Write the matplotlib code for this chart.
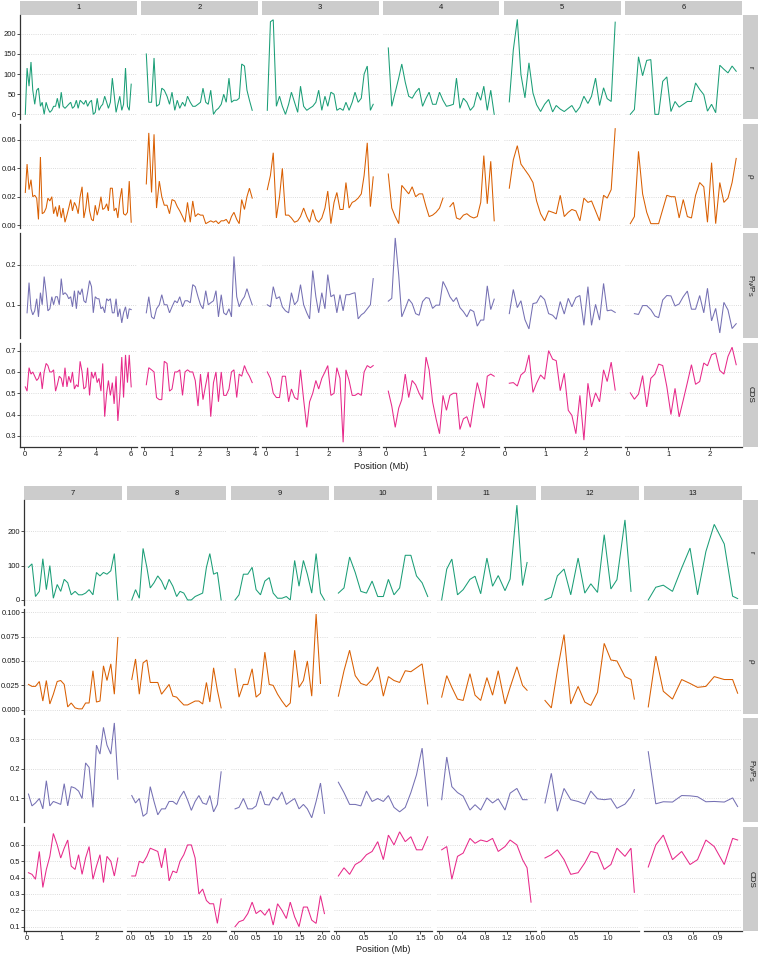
import numpy as np
import matplotlib
matplotlib.use('Agg')
import matplotlib.pyplot as plt

nan = float('nan')

# ---------------- data (Position in Mb, per chromosome) ----------------
pos_1 = [0.05, 0.15, 0.26, 0.37, 0.47, 0.58, 0.69, 0.79, 0.9, 1.0,
         1.11, 1.22, 1.32, 1.43, 1.54, 1.64, 1.75, 1.85, 1.96, 2.07,
         2.17, 2.28, 2.39, 2.49, 2.6, 2.7, 2.81, 2.92, 3.02, 3.13,
         3.24, 3.34, 3.45, 3.55, 3.66, 3.77, 3.87, 3.98, 4.09, 4.19,
         4.3, 4.4, 4.51, 4.62, 4.72, 4.83, 4.94, 5.04, 5.15, 5.25,
         5.36, 5.47, 5.57, 5.68, 5.79, 5.89, 6.0]
r_1 = [0, 115, 70, 130, 60, 25, 60, 65, 20, 30,
       0, 30, 15, 5, 10, 20, 20, 40, 15, 55,
       20, 15, 20, 25, 30, 15, 20, 35, 15, 35,
       30, 25, 35, 20, 30, 35, 0, 5, 40, 10,
       20, 25, 45, 30, 15, 30, 90, 50, 5, 25,
       45, 10, 25, 115, 20, 10, 75]
rho_1 = [0.023, 0.043, 0.025, 0.032, 0.02, 0.021, 0.019, 0.004, 0.048, 0.008,
         0.009, 0.012, 0.019, 0.017, 0.02, 0.008, 0.013, 0.006, 0.014, 0.005,
         0.012, 0.002, 0.007, 0.012, 0.018, 0.01, 0.016, 0.013, 0.008, 0.02,
         0.027, 0.005, 0.012, 0.023, 0.01, 0.004, 0.003, 0.014, 0.007, 0.012,
         0.02, 0.011, 0.012, 0.015, 0.01, 0.026, 0.026, 0.01, 0.012, 0.005,
         0.018, 0.026, 0.008, 0.007, 0.009, 0.031, 0.002]
pnps_1 = [nan, 0.08, 0.155, 0.09, 0.075, 0.085, 0.115, 0.07, 0.13, 0.1,
          0.17, 0.13, 0.085, 0.09, 0.12, 0.1, 0.12, 0.12, 0.1, 0.165,
          0.125, 0.13, 0.125, 0.115, 0.12, 0.095, 0.135, 0.09, 0.135, 0.125,
          0.14, 0.11, 0.105, 0.13, 0.16, 0.145, 0.08, 0.12, 0.115, 0.115,
          0.09, 0.095, 0.08, 0.115, 0.11, 0.115, 0.08, 0.08, 0.115, 0.07,
          0.09, 0.055, 0.08, 0.095, 0.065, 0.09, 0.088]
cds_1 = [0.53, 0.51, 0.62, 0.59, 0.6, 0.58, 0.56, 0.57, 0.6, 0.52,
         0.6, 0.64, 0.63, 0.6, 0.6, 0.61, 0.51, 0.54, 0.58, 0.57,
         0.53, 0.62, 0.53, 0.58, 0.55, 0.6, 0.52, 0.54, 0.53, 0.65,
         0.6, 0.52, 0.53, 0.62, 0.49, 0.6, 0.57, 0.6, 0.55, 0.57,
         0.51, 0.64, 0.39, 0.5, 0.56, 0.49, 0.55, 0.45, 0.58, 0.37,
         0.49, 0.67, 0.48, 0.68, 0.55, 0.68, 0.53]

pos_2 = [0.07, 0.16, 0.26, 0.35, 0.44, 0.54, 0.63, 0.72, 0.82, 0.91,
         1.0, 1.1, 1.19, 1.28, 1.38, 1.47, 1.56, 1.66, 1.75, 1.84,
         1.94, 2.03, 2.12, 2.22, 2.31, 2.4, 2.5, 2.59, 2.68, 2.78,
         2.87, 2.96, 3.06, 3.15, 3.24, 3.34, 3.43, 3.52, 3.62, 3.71,
         3.8, 3.9]
r_2 = [150, 30, 30, 140, 20, 25, 65, 60, 45, 25,
       55, 10, 35, 15, 30, 20, 45, 30, 20, 20,
       25, 30, 65, 30, 25, 60, 0, 10, 15, 25,
       50, 30, 90, 30, 35, 35, 40, 125, 120, 60,
       35, 10]
rho_2 = [0.029, 0.065, 0.023, 0.064, 0.012, 0.031, 0.02, 0.014, 0.014, 0.008,
         0.018, 0.017, 0.013, 0.01, 0.006, 0.002, 0.016, 0.002, 0.017, 0.006,
         0.008, 0.007, 0.007, 0.001, 0.002, 0.003, 0.002, 0.003, 0.001, 0.003,
         0.003, 0.004, 0.001, 0.006, 0.009, 0.004, 0.001, 0.018, 0.011, 0.02,
         0.026, 0.019]
pnps_2 = [0.08, 0.12, 0.07, 0.065, 0.09, 0.1, 0.125, 0.1, 0.1, 0.08,
          0.095, 0.11, 0.105, 0.12, 0.095, 0.11, 0.11, 0.105, 0.15, 0.145,
          0.12, 0.1, 0.09, 0.135, 0.1, 0.105, 0.11, 0.135, 0.07, 0.125,
          0.08, 0.075, 0.09, 0.07, 0.22, 0.12, 0.095, 0.11, 0.12, 0.14,
          0.12, 0.1]
cds_2 = [0.54, 0.62, 0.61, 0.6, 0.48, 0.47, 0.47, 0.65, 0.64, 0.51,
         0.52, 0.6, 0.6, 0.61, 0.49, 0.6, 0.61, 0.6, 0.6, 0.56,
         0.44, 0.59, 0.47, 0.54, 0.6, 0.39, 0.55, 0.6, 0.46, 0.6,
         0.49, 0.49, 0.52, 0.6, 0.61, 0.48, 0.59, 0.58, 0.63, 0.6,
         0.58, 0.55]

pos_3 = [0.05, 0.15, 0.24, 0.34, 0.44, 0.53, 0.63, 0.73, 0.82, 0.92,
         1.02, 1.11, 1.21, 1.31, 1.4, 1.5, 1.6, 1.69, 1.79, 1.89,
         1.98, 2.08, 2.18, 2.27, 2.37, 2.47, 2.56, 2.66, 2.76, 2.85,
         2.95, 3.05, 3.14, 3.24, 3.34, 3.43]
r_3 = [10, 230, 235, 20, 45, 20, 0, 25, 55, 30,
       5, 70, 20, 10, 15, 20, 30, 60, 10, 45,
       20, 55, 50, 10, 15, 10, 30, 10, 30, 55,
       30, 40, 100, 120, 10, 25]
rho_3 = [0.025, 0.035, 0.051, 0.005, 0.02, 0.04, 0.007, 0.007, 0.005, 0.002,
         0.003, 0.006, 0.012, 0.006, 0.002, 0.011, 0.004, 0.002, 0.005, 0.012,
         0.024, 0.001, 0.016, 0.023, 0.011, 0.011, 0.03, 0.012, 0.016, 0.017,
         0.019, 0.022, 0.035, 0.058, 0.013, 0.034]
pnps_3 = [0.1, 0.095, 0.145, 0.115, 0.12, 0.095, 0.085, 0.08, 0.13, 0.1,
          0.11, 0.15, 0.1, 0.08, 0.065, 0.185, 0.12, 0.08, 0.13, 0.09,
          0.175, 0.12, 0.125, 0.08, 0.125, 0.085, 0.125, 0.125, 0.128, 0.13,
          0.065, 0.075, 0.08, 0.09, 0.1, 0.165]
cds_3 = [0.6, 0.57, 0.5, 0.48, 0.48, 0.58, 0.58, 0.46, 0.52, 0.48,
         0.47, 0.61, 0.47, 0.34, 0.46, 0.5, 0.56, 0.52, 0.57, 0.6,
         0.63, 0.49, 0.5, 0.62, 0.57, 0.27, 0.61, 0.56, 0.49, 0.49,
         0.5, 0.49, 0.6, 0.63, 0.62, 0.63]

pos_4 = [0.07, 0.16, 0.25, 0.34, 0.42, 0.51, 0.6, 0.69, 0.78, 0.87,
         0.96, 1.05, 1.13, 1.22, 1.31, 1.4, 1.49, 1.58, 1.67, 1.76,
         1.84, 1.93, 2.02, 2.11, 2.2, 2.29, 2.38, 2.47, 2.55, 2.64,
         2.73, 2.82]
r_4 = [165, 20, 55, 90, 125, 80, 45, 40, 55, 65,
       20, 40, 55, 25, 25, 55, 35, 20, 22, 25,
       90, 15, 40, 30, 10, 20, 55, 35, 70, 10,
       60, 0]
rho_4 = [0.036, 0.012, 0.006, 0.001, 0.028, 0.025, 0.022, 0.027, 0.02, 0.022,
         0.022, 0.013, 0.006, 0.007, 0.009, 0.012, 0.019, nan, 0.013, 0.016,
         0.005, 0.004, 0.007, 0.008, 0.006, 0.005, 0.006, 0.016, 0.049, 0.015,
         0.045, 0.003]
pnps_4 = [0.109, 0.116, 0.266, 0.174, 0.07, 0.091, 0.114, 0.103, 0.078, 0.074,
          0.108, 0.118, 0.116, 0.091, 0.099, 0.099, 0.158, 0.141, 0.12, 0.108,
          0.118, 0.093, 0.083, 0.07, 0.088, 0.083, 0.047, 0.062, 0.062, 0.147,
          0.088, 0.114]
cds_4 = [0.51, 0.44, 0.34, 0.43, 0.47, 0.59, 0.48, 0.56, 0.54, 0.5,
         0.47, 0.67, 0.61, 0.46, 0.38, 0.31, 0.49, 0.42, 0.49, 0.5,
         0.5, 0.33, 0.38, 0.39, 0.34, 0.45, 0.55, 0.49, 0.43, 0.58,
         0.59, 0.58]

pos_5 = [0.1, 0.2, 0.3, 0.39, 0.49, 0.59, 0.69, 0.78, 0.88, 0.98,
         1.08, 1.18, 1.27, 1.37, 1.47, 1.57, 1.66, 1.76, 1.86, 1.96,
         2.06, 2.15, 2.25, 2.35, 2.45, 2.54, 2.64, 2.74]
r_5 = [31, 160, 236, 99, 41, 128, 53, 24, 7, 25,
       37, 6, 22, 13, 7, 15, 22, 5, 18, 45,
       27, 45, 90, 22, 66, 39, 32, 229]
rho_5 = [0.026, 0.046, 0.056, 0.043, 0.039, 0.035, 0.03, 0.017, 0.008, 0.003,
         0.01, 0.009, 0.008, 0.021, 0.006, 0.009, 0.011, 0.01, 0.003, 0.019,
         0.016, 0.017, 0.01, 0.003, 0.021, 0.019, 0.025, 0.068]
pnps_5 = [0.078, 0.138, 0.093, 0.11, 0.063, 0.04, 0.103, 0.105, 0.123, 0.113,
          0.078, 0.074, 0.064, 0.108, 0.077, 0.116, 0.095, 0.118, 0.123, 0.049,
          0.145, 0.049, 0.101, 0.062, 0.153, 0.085, 0.087, 0.081]
cds_5 = [0.547, 0.55, 0.534, 0.586, 0.602, 0.68, 0.504, 0.547, 0.586, 0.566,
         0.7, 0.66, 0.653, 0.512, 0.594, 0.42, 0.396, 0.31, 0.49, 0.28,
         0.547, 0.436, 0.502, 0.46, 0.61, 0.555, 0.646, 0.515]

pos_6 = [0.07, 0.17, 0.27, 0.37, 0.47, 0.57, 0.67, 0.76, 0.86, 0.96,
         1.06, 1.16, 1.26, 1.36, 1.46, 1.56, 1.66, 1.76, 1.86, 1.95,
         2.05, 2.15, 2.25, 2.35, 2.45, 2.55, 2.65]
r_6 = [0, 12, 143, 96, 134, 136, 0, 0, 82, 93,
       7, 32, 18, 25, 32, 32, 78, 62, 49, 8,
       25, 4, 122, 112, 103, 120, 107]
rho_6 = [0.001, 0.006, 0.052, 0.022, 0.009, 0.001, 0.001, 0.001, 0.011, 0.021,
         0.02, 0.02, 0.005, 0.018, 0.006, 0.005, 0.021, 0.03, 0.027, 0.002,
         0.044, 0.001, 0.03, 0.016, 0.019, 0.03, 0.047]
pnps_6 = [nan, 0.078, 0.076, 0.098, 0.098, 0.088, 0.072, 0.068, 0.112, 0.123,
          0.122, 0.097, 0.102, 0.12, 0.134, 0.089, 0.089, 0.123, 0.08, 0.141,
          0.06, 0.091, 0.03, 0.106, 0.087, 0.041, 0.053]
cds_6 = [0.502, 0.472, 0.496, 0.583, 0.436, 0.57, 0.59, 0.637, 0.63, 0.531,
         0.4, 0.523, 0.389, 0.468, 0.55, 0.634, 0.542, 0.555, 0.642, 0.629,
         0.681, 0.689, 0.607, 0.59, 0.673, 0.716, 0.634]

pos_7 = [0.06, 0.16, 0.26, 0.37, 0.47, 0.57, 0.67, 0.77, 0.88, 0.98,
         1.08, 1.18, 1.28, 1.39, 1.49, 1.59, 1.69, 1.79, 1.9, 2.0,
         2.1, 2.2, 2.3, 2.41, 2.51, 2.61]
r_7 = [95, 105, 10, 25, 120, 30, 100, 5, 45, 25,
       60, 50, 15, 25, 15, 15, 20, 30, 15, 80,
       70, 80, 75, 85, 135, 0]
rho_7 = [0.026, 0.024, 0.024, 0.029, 0.009, 0.03, 0.006, 0.016, 0.029, 0.03,
         0.026, 0.003, 0.007, 0.002, 0.001, 0.001, 0.007, 0.007, 0.04, 0.008,
         0.009, 0.045, 0.03, 0.047, 0.016, 0.074]
pnps_7 = [0.115, 0.075, 0.085, 0.1, 0.065, 0.16, 0.075, 0.09, 0.085, 0.08,
          0.15, 0.075, 0.14, 0.135, 0.125, 0.1, 0.22, 0.205, 0.07, 0.28,
          0.25, 0.34, 0.28, 0.25, 0.355, 0.165]
cds_7 = [0.43, 0.42, 0.39, 0.56, 0.34, 0.45, 0.53, 0.67, 0.6, 0.52,
         0.58, 0.63, 0.47, 0.45, 0.54, 0.42, 0.52, 0.59, 0.39, 0.47,
         0.54, 0.37, 0.53, 0.5, 0.41, 0.52]

pos_8 = [0.01, 0.11, 0.21, 0.31, 0.41, 0.5, 0.6, 0.7, 0.8, 0.9,
         1.0, 1.1, 1.2, 1.29, 1.39, 1.49, 1.59, 1.69, 1.79, 1.89,
         1.99, 2.08, 2.18, 2.28, 2.38]
r_8 = [0, 30, 5, 150, 95, 35, 50, 70, 55, 30,
       60, 40, 10, 25, 20, 0, 0, 10, 15, 20,
       95, 135, 75, 80, 0]
rho_8 = [0.031, 0.052, 0.016, 0.048, 0.051, 0.028, 0.028, 0.028, 0.016, 0.021,
         0.026, 0.014, 0.013, 0.009, 0.005, 0.005, 0.007, 0.009, 0.009, 0.006,
         0.028, 0.008, 0.043, 0.02, 0.002]
pnps_8 = [0.11, 0.085, 0.1, 0.04, 0.05, 0.14, 0.09, 0.045, 0.065, 0.065,
          0.09, 0.09, 0.08, 0.105, 0.125, 0.095, 0.06, 0.09, 0.11, 0.085,
          0.08, 0.11, 0.055, 0.08, 0.19]
cds_8 = [0.41, 0.41, 0.5, 0.49, 0.53, 0.58, 0.57, 0.56, 0.46, 0.58,
         0.38, 0.44, 0.43, 0.5, 0.54, 0.6, 0.6, 0.52, 0.3, 0.33,
         0.26, 0.24, 0.24, 0.12, 0.27]

pos_9 = [0.02, 0.11, 0.21, 0.31, 0.41, 0.5, 0.6, 0.7, 0.8, 0.89,
         0.99, 1.09, 1.19, 1.28, 1.38, 1.48, 1.58, 1.67, 1.77, 1.87,
         1.97, 2.06]
r_9 = [0, 15, 75, 75, 95, 30, 15, 55, 65, 20,
       5, 5, 10, 0, 115, 40, 115, 75, 20, 135,
       20, 0]
rho_9 = [0.042, 0.013, 0.026, 0.026, 0.042, 0.013, 0.017, 0.059, 0.026, 0.025,
         0.016, 0.009, 0.003, 0.007, 0.061, 0.023, 0.03, 0.05, 0.014, 0.098,
         0.027, nan]
pnps_9 = [0.065, 0.07, 0.1, 0.065, 0.065, 0.075, 0.125, 0.08, 0.078, 0.105,
          0.095, 0.122, 0.08, 0.09, 0.1, 0.065, 0.08, 0.065, 0.035, 0.09,
          0.152, 0.05]
cds_9 = [0.1, 0.13, 0.14, 0.18, 0.25, 0.18, 0.2, 0.17, 0.21, 0.11,
         0.24, 0.2, 0.15, 0.25, 0.16, 0.1, 0.22, 0.22, 0.14, 0.12,
         0.29, 0.18]

pos_10 = [0.04, 0.14, 0.24, 0.34, 0.44, 0.54, 0.64, 0.74, 0.84, 0.93,
          1.03, 1.13, 1.23, 1.33, 1.43, 1.53, 1.63]
r_10 = [20, 35, 125, 80, 25, 20, 55, 10, 10, 60, 15, 35, 130, 130, 70, 50, 10]
rho_10 = [0.014, 0.04, 0.061, 0.035, 0.027, 0.025, 0.031, 0.044, 0.014, 0.034,
          0.03, 0.028, 0.04, 0.039, 0.043, 0.047, 0.006]
pnps_10 = [0.155, 0.12, 0.08, 0.08, 0.075, 0.125, 0.09, 0.1, 0.09, 0.11,
           0.07, 0.055, 0.07, 0.12, 0.18, 0.27, 0.075]
cds_10 = [0.41, 0.46, 0.42, 0.48, 0.5, 0.54, 0.56, 0.62, 0.51, 0.66,
          0.6, 0.68, 0.62, 0.65, 0.57, 0.57, 0.65]

pos_11 = [0.04, 0.13, 0.22, 0.32, 0.42, 0.54, 0.63, 0.73, 0.84, 0.94,
          1.04, 1.16, 1.25, 1.37, 1.47, 1.55, 1.62]
r_11 = [0, 90, 119, 15, 30, 60, 69, 18, 122, 40, 71, 27, 61, 276, 42, 109, nan]
rho_11 = [0.013, 0.035, 0.023, 0.011, 0.0096, 0.037, 0.015, 0.0096, 0.033, 0.015,
          0.04, 0.006, 0.023, 0.044, 0.025, 0.02, nan]
pnps_11 = [0.096, 0.24, 0.14, 0.12, 0.108, 0.061, 0.079, 0.061, 0.102, 0.085,
           0.099, 0.061, 0.118, 0.134, 0.096, 0.096, nan]
cds_11 = [0.57, 0.59, 0.39, 0.53, 0.55, 0.64, 0.61, 0.63, 0.62, 0.64,
          0.56, 0.59, 0.63, 0.6, 0.51, 0.46, 0.25]

pos_12 = [0.065, 0.16, 0.25, 0.35, 0.45, 0.56, 0.66, 0.75, 0.85, 0.95,
          1.05, 1.14, 1.26, 1.35, 1.40]
r_12 = [0, 8, 70, 90, 15, 122, 20, 47, 22, 190, 32, 59, 233, 25, nan]
rho_12 = [0.0096, 0.002, 0.04, 0.077, 0.006, 0.024, 0.008, 0.0045, 0.018, 0.068,
          0.051, 0.05, 0.034, 0.031, 0.011]
pnps_12 = [0.085, 0.185, 0.057, 0.134, 0.096, 0.09, 0.081, 0.125, 0.099, 0.096,
           0.099, 0.067, 0.081, 0.106, 0.13]
cds_12 = [0.52, 0.54, 0.57, 0.51, 0.42, 0.43, 0.49, 0.56, 0.55, 0.45,
          0.48, 0.58, 0.53, 0.58, 0.31]

pos_13 = [0.06, 0.15, 0.24, 0.35, 0.46, 0.56, 0.65, 0.75, 0.85, 0.97, 1.07, 1.13]
r_13 = [0, 37, 43, 25, 93, 151, 15, 141, 220, 163, 11, 4]
rho_13 = [0.003, 0.055, 0.019, 0.011, 0.031, 0.027, 0.023, 0.024, 0.034, 0.031, 0.031, 0.017]
pnps_13 = [0.258, 0.082, 0.089, 0.088, 0.11, 0.109, 0.106, 0.089, 0.09, 0.088, 0.102, 0.073]
cds_13 = [0.465, 0.6, 0.66, 0.51, 0.56, 0.48, 0.51, 0.63, 0.59, 0.48, 0.64, 0.63]

metric_keys = ['r', 'rho', 'pnps', 'cds']
metric_labels = ['r', 'ρ', r'$\mathrm{P_N/P_S}$', 'CDS']
metric_colors = ['#1B9E77', '#D95F02', '#7570B3', '#E7298A']

x_ticks = {
    1: [0, 2, 4, 6], 2: [0, 1, 2, 3, 4], 3: [0, 1, 2, 3], 4: [0, 1, 2],
    5: [0, 1, 2], 6: [0, 1, 2], 7: [0, 1, 2], 8: [0.0, 0.5, 1.0, 1.5, 2.0],
    9: [0.0, 0.5, 1.0, 1.5, 2.0], 10: [0.0, 0.5, 1.0, 1.5],
    11: [0.0, 0.4, 0.8, 1.2, 1.6], 12: [0.0, 0.5, 1.0], 13: [0.3, 0.6, 0.9],
}
x_tick_fmt = {1: '%d', 2: '%d', 3: '%d', 4: '%d', 5: '%d', 6: '%d', 7: '%d',
              8: '%.1f', 9: '%.1f', 10: '%.1f', 11: '%.1f', 12: '%.1f', 13: '%.1f'}

top_yticks = [[0, 50, 100, 150, 200], [0.00, 0.02, 0.04, 0.06], [0.1, 0.2],
              [0.3, 0.4, 0.5, 0.6, 0.7]]
top_yfmt = ['%d', '%.2f', '%.1f', '%.1f']
bot_yticks = [[0, 100, 200], [0.000, 0.025, 0.050, 0.075, 0.100], [0.1, 0.2, 0.3],
              [0.1, 0.2, 0.3, 0.4, 0.5, 0.6]]
bot_yfmt = ['%d', '%.3f', '%.1f', '%.1f']

G = globals()


def series(chrom, key):
    return np.array(G['%s_%d' % (key, chrom)], dtype=float)


# ---------------- figure ----------------
plt.rcParams['font.family'] = ['Liberation Sans', 'DejaVu Sans']
plt.rcParams['mathtext.fontset'] = 'custom'
plt.rcParams['mathtext.rm'] = 'Liberation Sans'
plt.rcParams['mathtext.it'] = 'Liberation Sans:italic'

W, H = 760, 957
fig = plt.figure(figsize=(W / 100, H / 100), dpi=100)
fig.patch.set_facecolor('white')

TXT = '#1A1A1A'
AX = '#333333'
STRIP = '#CCCCCC'
TICK_FS = 5.5


def add_ax(x0, y0, w, h):
    return fig.add_axes([x0 / W, 1 - (y0 + h) / H, w / W, h / H])


def draw_grid(chroms, x0, pw, gx, y0, ph, gy, strip_top, yticks, yfmt, xlabel_y):
    ncol = len(chroms)
    ylims = []
    for key in metric_keys:
        vals = np.concatenate([series(c, key) for c in chroms])
        lo, hi = np.nanmin(vals), np.nanmax(vals)
        pad = 0.05 * (hi - lo)
        ylims.append((lo - pad, hi + pad))

    for j, c in enumerate(chroms):
        px = x0 + j * (pw + gx)
        sax = add_ax(px, strip_top, pw, y0 - strip_top)
        sax.set_facecolor(STRIP)
        sax.set_xticks([]); sax.set_yticks([])
        for s in sax.spines.values():
            s.set_visible(False)
        sax.text(0.5, 0.5, str(c), ha='center', va='center', fontsize=TICK_FS,
                 color=TXT, transform=sax.transAxes)

        pos = np.array(G['pos_%d' % c], dtype=float)
        xlo, xhi = np.nanmin(pos), np.nanmax(pos)
        xpad = 0.05 * (xhi - xlo)
        for i, key in enumerate(metric_keys):
            py = y0 + i * (ph + gy)
            ax = add_ax(px, py, pw, ph)
            ax.plot(pos, series(c, key), color=metric_colors[i], lw=0.75,
                    solid_joinstyle='miter')
            ax.set_xlim(xlo - xpad, xhi + xpad)
            ax.set_ylim(*ylims[i])
            ax.set_yticks(yticks[i])
            ax.yaxis.grid(True, linestyle=(0, (1, 1.6)), color='#D0D0D0', lw=0.6)
            ax.set_axisbelow(True)
            for s in ax.spines.values():
                s.set_visible(False)
            if j == 0:
                ax.spines['left'].set_visible(True)
                ax.spines['left'].set_color(AX)
                ax.spines['left'].set_linewidth(0.9)
                ax.set_yticklabels([yfmt[i] % v for v in yticks[i]])
                ax.tick_params(axis='y', length=2.0, width=0.6, color=AX,
                               labelsize=TICK_FS, labelcolor=TXT, pad=0.8)
            else:
                ax.tick_params(axis='y', length=0, labelleft=False)
            if i == len(metric_keys) - 1:
                ax.spines['bottom'].set_visible(True)
                ax.spines['bottom'].set_color(AX)
                ax.spines['bottom'].set_linewidth(0.9)
                ax.set_xticks(x_ticks[c])
                ax.set_xticklabels([x_tick_fmt[c] % v for v in x_ticks[c]])
                ax.tick_params(axis='x', length=2.0, width=0.6, color=AX,
                               labelsize=TICK_FS, labelcolor=TXT, pad=0.8)
            else:
                ax.set_xticks([])
            ax.set_facecolor('white')

    rx = x0 + ncol * (pw + gx) - gx + 1.2
    for i in range(len(metric_keys)):
        py = y0 + i * (ph + gy)
        sax = add_ax(rx, py, 14.8, ph)
        sax.set_facecolor(STRIP)
        sax.set_xticks([]); sax.set_yticks([])
        for s in sax.spines.values():
            s.set_visible(False)
        sax.text(0.5, 0.5, metric_labels[i], ha='center', va='center',
                 fontsize=TICK_FS + 0.3, color=TXT, rotation=-90,
                 transform=sax.transAxes)

    cx = x0 + (ncol * (pw + gx) - gx) / 2
    fig.text(cx / W, 1 - xlabel_y / H, 'Position (Mb)', ha='center', va='center',
             fontsize=6.6, color=TXT)


draw_grid([1, 2, 3, 4, 5, 6], x0=20, pw=116.5, gx=4.5, y0=14.6, ph=104.5, gy=4.8,
          strip_top=0.6, yticks=top_yticks, yfmt=top_yfmt, xlabel_y=467)
draw_grid([7, 8, 9, 10, 11, 12, 13], x0=24, pw=98.3, gx=5.0, y0=500.4, ph=104.3,
          gy=4.6, strip_top=485.7, yticks=bot_yticks, yfmt=bot_yfmt, xlabel_y=950)

fig.savefig('out.png', dpi=100, facecolor='white')
